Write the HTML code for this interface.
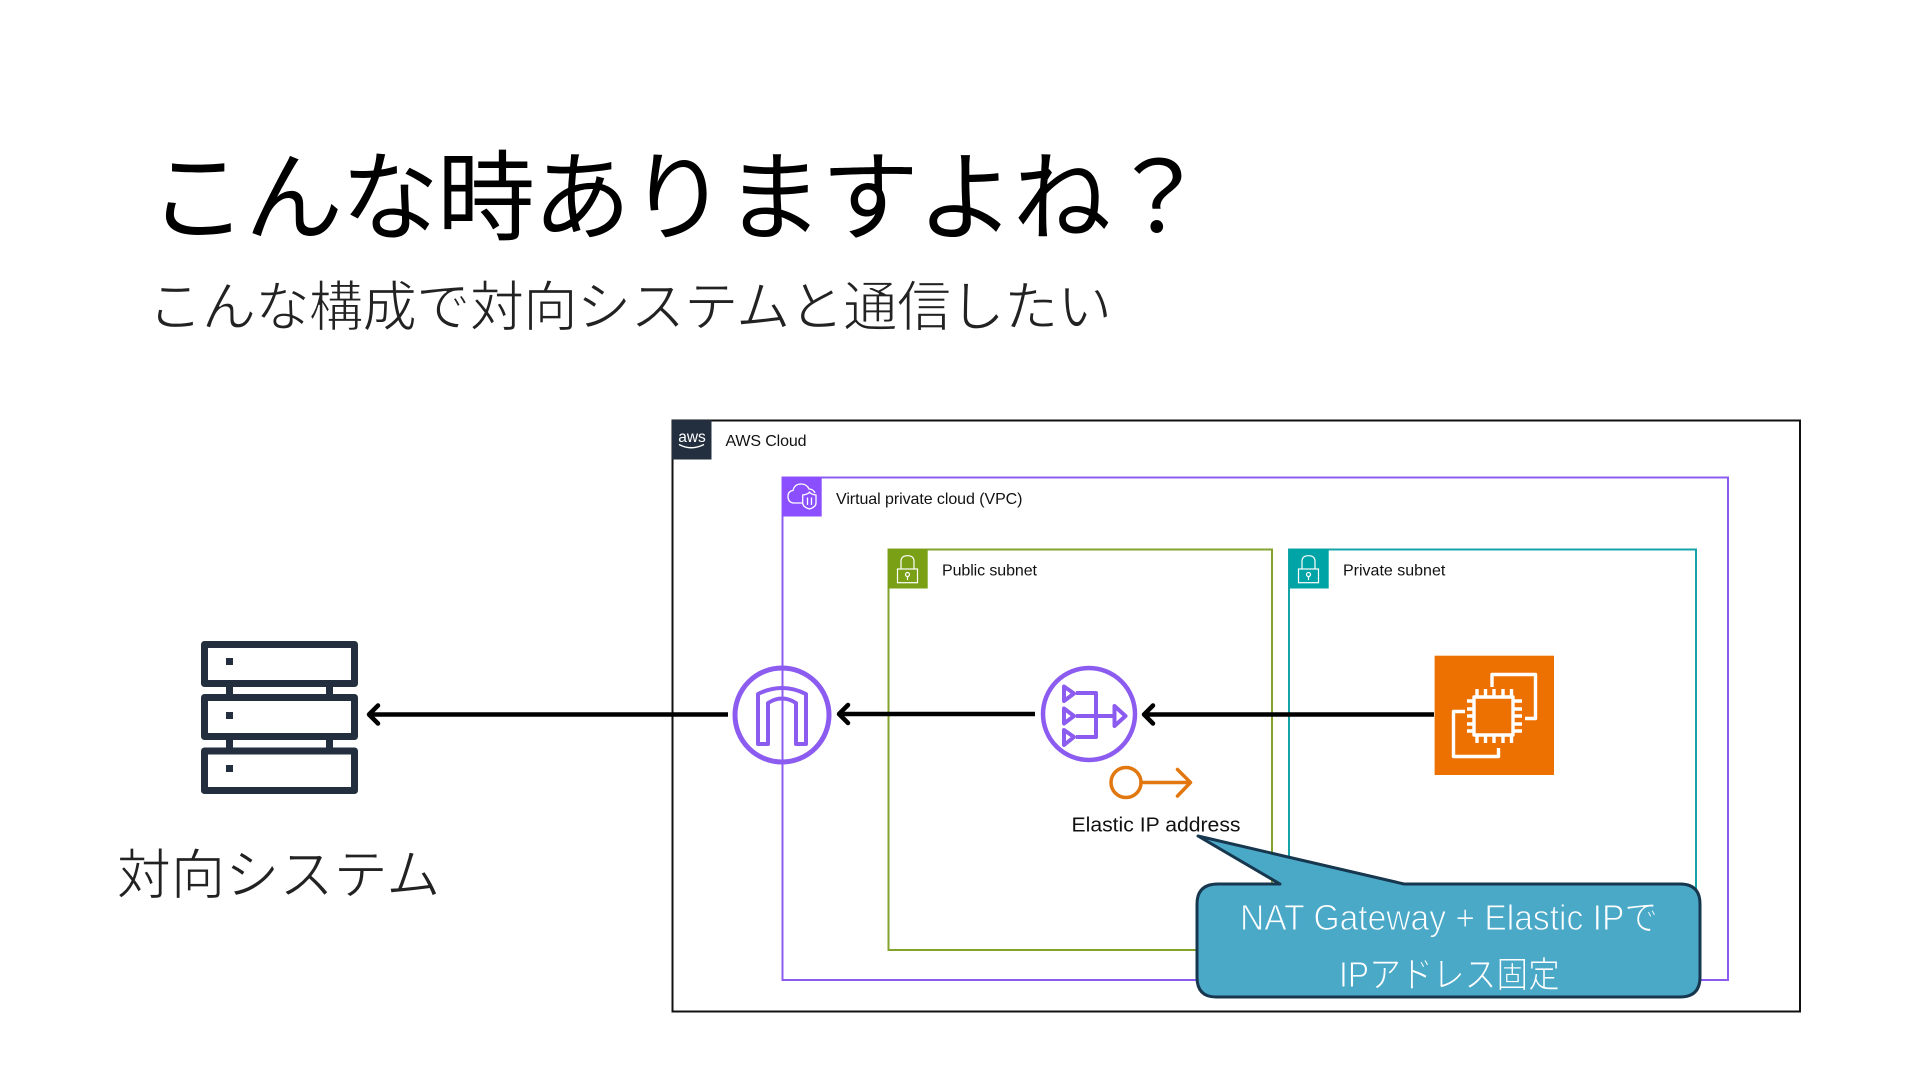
<!DOCTYPE html>
<html lang="ja">
<head>
<meta charset="utf-8">
<title>こんな時ありますよね？</title>
<style>
html,body{margin:0;padding:0;background:#fff;width:1920px;height:1080px;overflow:hidden}
svg{display:block}
.jp{font-family:"Liberation Sans","Noto Sans CJK JP",sans-serif}
.lb{font-family:"Liberation Sans",sans-serif;font-size:16px;fill:#111}
</style>
</head>
<body>
<svg xmlns="http://www.w3.org/2000/svg" width="1920" height="1080" viewBox="0 0 1920 1080">
<rect width="1920" height="1080" fill="#fff"/>

<text class="jp" x="149" y="232" font-size="98" fill="#000" textLength="1058" lengthAdjust="spacing">こんな時ありますよね？</text>
<text class="jp" x="148" y="326" font-size="54.5" fill="#222" stroke="#fff" stroke-width="1.2" textLength="964" lengthAdjust="spacing">こんな構成で対向システムと通信したい</text>
<text class="jp" x="116.500" y="894" font-size="54.5" fill="#222" stroke="#fff" stroke-width="1.2" textLength="324" lengthAdjust="spacing">対向システム</text>

<!-- server -->
<g fill="none" stroke="#232F3E" stroke-width="7" stroke-linejoin="round">
<rect x="204.5" y="644.5" width="150" height="39"/>
<rect x="204.5" y="697.5" width="150" height="39"/>
<rect x="204.5" y="751" width="150" height="39.500"/>
</g>
<g fill="#232F3E">
<rect x="226" y="686" width="7" height="9"/><rect x="326" y="686" width="7" height="9"/>
<rect x="226" y="739" width="7" height="9"/><rect x="326" y="739" width="7" height="9"/>
<rect x="226" y="658" width="7" height="7"/><rect x="226" y="712" width="7" height="7"/><rect x="226" y="765" width="7" height="7"/>
</g>

<!-- groups -->
<rect x="672.5" y="420.5" width="1127.5" height="591" fill="none" stroke="#111" stroke-width="2"/>
<rect x="782.5" y="477.5" width="945.500" height="502.5" fill="none" stroke="#8C5CF0" stroke-width="2"/>
<rect x="888.5" y="549.5" width="383.5" height="400.5" fill="none" stroke="#84A32E" stroke-width="2"/>
<rect x="1289" y="549.5" width="407" height="400.5" fill="none" stroke="#14A4A8" stroke-width="2"/>

<!-- AWS header -->
<rect x="672" y="420" width="39.5" height="39.5" fill="#232F3E"/>
<text x="692" y="442" font-family="'Liberation Sans',sans-serif" font-size="15.500" fill="#fff" text-anchor="middle">aws</text>
<path d="M679 444.5Q691 451 704 444.5" fill="none" stroke="#fff" stroke-width="1.4"/>
<text class="lb" x="725.5" y="446" textLength="81">AWS Cloud</text>

<!-- VPC header -->
<rect x="782" y="477" width="39.7" height="39.5" fill="#8C4FFF"/>
<g fill="none" stroke="#fff" stroke-width="1.3">
<path d="M803 503H793Q788 502 788 496.5Q788 491 793 490.5Q794.500 484 801 484Q807 484 809 489Q813 489 815 493"/>
<path d="M802.7 495Q809.500 494 809.500 491.500Q809.500 494 816 495V503Q816 507 809.500 509Q802.700 507 802.700 503Z"/>
<path d="M807.500 497.500V505M811.500 497.500V505"/>
</g>
<text class="lb" x="836" y="504" textLength="186.500">Virtual private cloud (VPC)</text>

<!-- Public subnet header -->
<rect x="888" y="549" width="39.700" height="39.500" fill="#7AA116"/>
<g fill="none" stroke="#fff" stroke-width="1.200">
<rect x="897.500" y="569" width="20" height="13.700"/>
<path d="M901 569V561.500Q901 555.700 907.500 555.700Q914 555.700 914 561.500V569"/>
<circle cx="907.500" cy="574.500" r="2"/><path d="M907.500 576.500V580"/>
</g>
<text class="lb" x="942" y="575.500" textLength="95">Public subnet</text>

<!-- Private subnet header -->
<rect x="1289" y="549" width="39.700" height="39.500" fill="#00A4A6"/>
<g fill="none" stroke="#fff" stroke-width="1.200">
<rect x="1298.500" y="569" width="20" height="13.700"/>
<path d="M1302 569V561.500Q1302 555.700 1308.500 555.700Q1315 555.700 1315 561.500V569"/>
<circle cx="1308.500" cy="574.500" r="2"/><path d="M1308.500 576.500V580"/>
</g>
<text class="lb" x="1343" y="575.500">Private subnet</text>

<!-- IGW -->
<g fill="none" stroke="#8C5CF0">
<circle cx="782" cy="715" r="47" stroke-width="5"/>
<path d="M758 744V694Q782 682 806 694V744H796V703Q782 694 768 703V744Z" stroke-width="4" stroke-linejoin="round"/>
</g>

<!-- NAT -->
<g fill="none" stroke="#8C5CF0" stroke-linejoin="round">
<circle cx="1089" cy="714" r="46" stroke-width="4.500"/>
<g stroke-width="4">
<path d="M1064 686.500L1074 693.500L1064 701Z"/>
<path d="M1064 708.500L1074 716L1064 723.500Z"/>
<path d="M1064 730L1074 737L1064 745Z"/>
<path d="M1076 693H1096V737H1076M1076 716H1114"/>
<path d="M1114.500 706L1125.500 716L1114.500 726Z"/>
</g>
</g>

<!-- EC2 -->
<rect x="1434.600" y="655.700" width="119.400" height="119.300" fill="#ED7100"/>
<g fill="none" stroke="#fff" stroke-width="3.400" stroke-linejoin="round">
<rect x="1474" y="697" width="39" height="38"/>
<path d="M1492 687V674.500H1535.500V718.500H1525M1465 711.500H1453.500V756.500H1498.500V748"/>
<path d="M1477 689V697M1485.500 689V697M1494 689V697M1503 689V697M1511.500 689V697M1477 735V743M1485.500 735V743M1494 735V743M1503 735V743M1511.500 735V743M1467 701H1474M1467 709H1474M1467 716H1474M1467 724H1474M1467 731H1474M1513 701H1522M1513 709H1522M1513 716H1522M1513 724H1522M1513 731H1522"/>
</g>

<!-- arrows -->
<g fill="none" stroke="#000" stroke-width="4.500">
<path d="M1434 714.500H1146"/>
<path d="M1035 714H841"/>
<path d="M728 714.500H372"/>
<g stroke-linecap="round" stroke-linejoin="round">
<path d="M1153 705.500L1144 714.500L1153 723.500"/>
<path d="M848 705L839 714L848 723"/>
<path d="M378 705.500L369 714.500L378 723.500"/>
</g>
</g>

<!-- Elastic IP -->
<g fill="none" stroke="#E2760F" stroke-width="3.500" stroke-linecap="round" stroke-linejoin="round">
<circle cx="1126" cy="782.500" r="15"/>
<path d="M1141 782.500H1190M1177.500 769.500L1190.500 782.500L1177.500 796"/>
</g>
<text x="1071.500" y="831.500" font-family="'Liberation Sans',sans-serif" font-size="20" fill="#111" textLength="169" lengthAdjust="spacingAndGlyphs">Elastic IP address</text>

<!-- callout -->
<path d="M1218 884H1280L1198 836L1404 884H1680Q1700 884 1700 904V977Q1700 997 1680 997H1216Q1197 997 1197 977V904Q1197 884 1218 884Z" fill="#4BA9C8" stroke="#17374F" stroke-width="3" stroke-linejoin="round"/>
<text class="jp" x="1240" y="930" font-size="36" fill="#fff" stroke="#4BA9C8" stroke-width="1" textLength="418" lengthAdjust="spacingAndGlyphs">NAT Gateway + Elastic IPで</text>
<text class="jp" x="1339" y="987" font-size="36" fill="#fff" stroke="#4BA9C8" stroke-width="1" textLength="221" lengthAdjust="spacingAndGlyphs">IPアドレス固定</text>
</svg>
</body>
</html>
